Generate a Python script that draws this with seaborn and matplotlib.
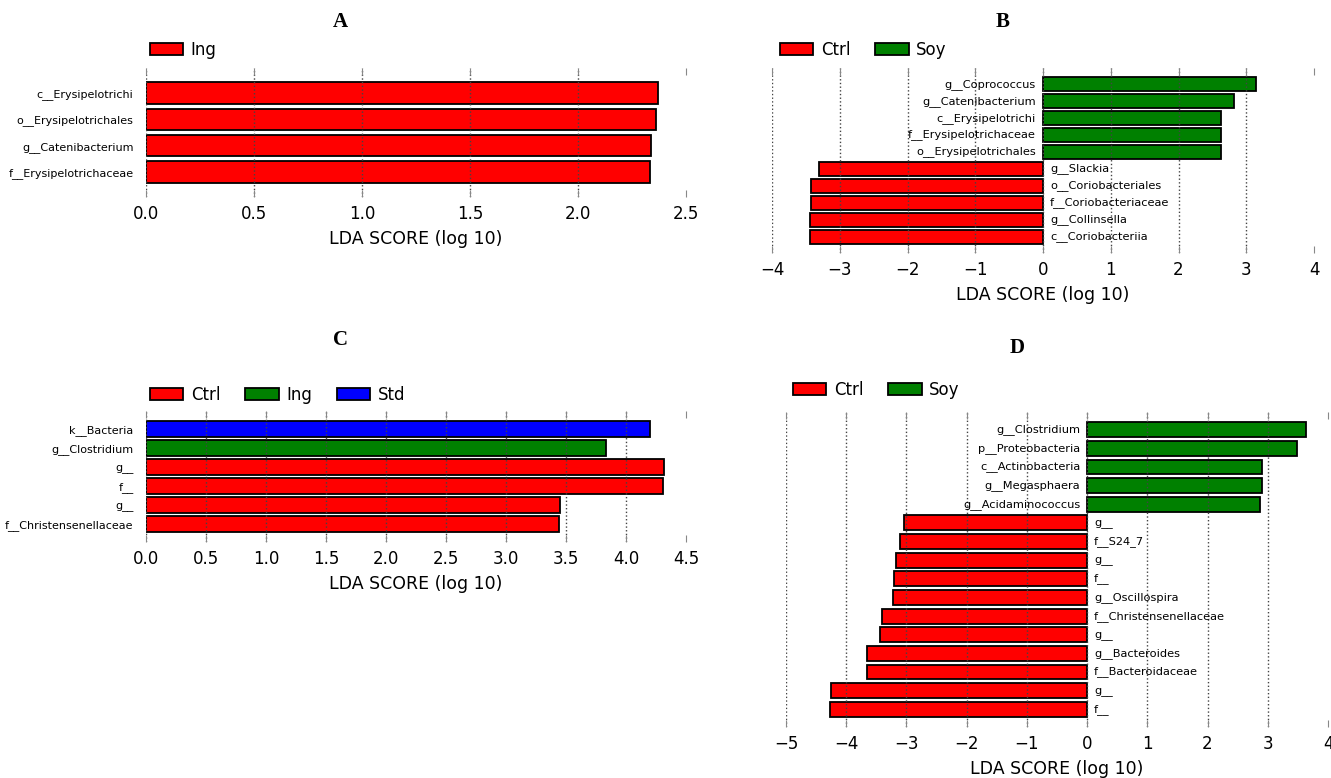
import pandas as pd
import seaborn as sns
from matplotlib import pyplot as plt

# panel A (Ing)
a_names = ['c__Erysipelotrichi', 'o__Erysipelotrichales', 'g__Catenibacterium', 'f__Erysipelotrichaceae']
a_scores = [2.37, 2.36, 2.34, 2.335]
a_groups = ['Ing', 'Ing', 'Ing', 'Ing']
a_ticks = [0.0, 0.5, 1.0, 1.5, 2.0, 2.5]

# panel B (Ctrl vs Soy)
b_names = ['g__Coprococcus', 'g__Catenibacterium', 'c__Erysipelotrichi', 'f__Erysipelotrichaceae',
           'o__Erysipelotrichales', 'g__Slackia', 'o__Coriobacteriales', 'f__Coriobacteriaceae',
           'g__Collinsella', 'c__Coriobacteriia']
b_scores = [3.15, 2.82, 2.63, 2.63, 2.62, -3.31, -3.42, -3.43, -3.44, -3.44]
b_groups = ['Soy'] * 5 + ['Ctrl'] * 5
b_ticks = [-4, -3, -2, -1, 0, 1, 2, 3, 4]

# panel C (Ctrl, Ing, Std)
c_names = ['k__Bacteria', 'g__Clostridium', 'g__', 'f__', 'g__', 'f__Christensenellaceae']
c_scores = [4.20, 3.83, 4.32, 4.31, 3.45, 3.44]
c_groups = ['Std', 'Ing', 'Ctrl', 'Ctrl', 'Ctrl', 'Ctrl']
c_ticks = [0.0, 0.5, 1.0, 1.5, 2.0, 2.5, 3.0, 3.5, 4.0, 4.5]

# panel D (Ctrl vs Soy)
d_names = ['g__Clostridium', 'p__Proteobacteria', 'c__Actinobacteria', 'g__Megasphaera',
           'g__Acidaminococcus', 'g__', 'f__S24_7', 'g__', 'f__', 'g__Oscillospira',
           'f__Christensenellaceae', 'g__', 'g__Bacteroides', 'f__Bacteroidaceae', 'g__', 'f__']
d_scores = [3.63, 3.48, 2.91, 2.90, 2.87, -3.04, -3.10, -3.17, -3.20, -3.22,
            -3.41, -3.44, -3.65, -3.66, -4.25, -4.27]
d_groups = ['Soy'] * 5 + ['Ctrl'] * 11
d_ticks = [-5, -4, -3, -2, -1, 0, 1, 2, 3, 4]

colors = ['#ff0000', '#008000', '#0000ff']

sns.set_style('white')
plt.rcParams['font.family'] = ['DejaVu Sans']
plt.rcParams['text.color'] = 'black'
plt.rcParams['axes.labelcolor'] = 'black'
plt.rcParams['xtick.labelcolor'] = 'black'
plt.rcParams['ytick.labelcolor'] = 'black'

W, H = 1331, 778
fig = plt.figure(figsize=(W / 100, H / 100), dpi=100)


def px_axes(left, right, top, bottom):
    return fig.add_axes([left / W, 1 - bottom / H, (right - left) / W, (bottom - top) / H])


def lda_panel(ax, names, scores, groups, hue_order, ticks, inside_labels, legend_xy):
    df = pd.DataFrame({'row': range(len(names)), 'score': scores, 'group': groups})
    sns.barplot(data=df, x='score', y='row', hue='group', hue_order=hue_order,
                palette=colors[:len(hue_order)], orient='y', dodge=False, width=0.8,
                saturation=1, edgecolor='black', linewidth=1.3, ax=ax)
    n = len(names)
    ax.set_ylim(n - 0.05, -0.95)
    ax.set_xlim(ticks[0], ticks[-1])
    ax.set_xticks(ticks)
    ax.set_ylabel('')
    ax.set_xlabel('LDA SCORE (log 10)', fontsize=12.5, labelpad=5)
    for s in ax.spines.values():
        s.set_visible(False)
    ax.set_axisbelow(False)
    ax.grid(axis='x', linestyle=':', color='#444444', linewidth=1)
    ax.grid(axis='y', visible=False)
    ax.xaxis.get_gridlines()[-1].set_visible(False)
    ax.tick_params(axis='x', direction='in', top=True, bottom=True, length=5,
                   color='#888888', labelsize=12, pad=6)
    if inside_labels:
        ax.set_yticks([])
        for i, (name, val) in enumerate(zip(names, scores)):
            off = -5 if val > 0 else 5
            ax.annotate(name, (0, i), xytext=(off, 0), textcoords='offset points',
                        ha='right' if val > 0 else 'left', va='center', fontsize=8.2)
    else:
        ax.set_yticks(range(n))
        ax.set_yticklabels(names, fontsize=8)
        ax.tick_params(axis='y', length=0, pad=9)
    sns.move_legend(ax, 'center left', bbox_to_anchor=(legend_xy[0] / W, 1 - legend_xy[1] / H),
                    bbox_transform=fig.transFigure, ncol=len(hue_order), frameon=False,
                    title=None, fontsize=12, borderpad=0, borderaxespad=0,
                    handlelength=2.0, handletextpad=0.45, columnspacing=1.5)


axA = px_axes(146, 686, 68, 197)
lda_panel(axA, a_names, a_scores, a_groups, ['Ing'], a_ticks, False, (150, 50))
axB = px_axes(772, 1314, 68, 253)
lda_panel(axB, b_names, b_scores, b_groups, ['Ctrl', 'Soy'], b_ticks, True, (780, 50))
axC = px_axes(146, 686, 411, 542)
lda_panel(axC, c_names, c_scores, c_groups, ['Ctrl', 'Ing', 'Std'], c_ticks, False, (150, 395))
axD = px_axes(786, 1328, 412, 727)
lda_panel(axD, d_names, d_scores, d_groups, ['Ctrl', 'Soy'], d_ticks, True, (793, 390))

title_font = ['Liberation Serif', 'DejaVu Serif']
for letter, x, y in [('A', 340, 22), ('B', 1003, 22), ('C', 340, 340), ('D', 1017, 348)]:
    fig.text(x / W, 1 - y / H, letter, ha='center', va='center', fontsize=15,
             fontweight='bold', family=title_font)

fig.savefig('out.png', dpi=100)
